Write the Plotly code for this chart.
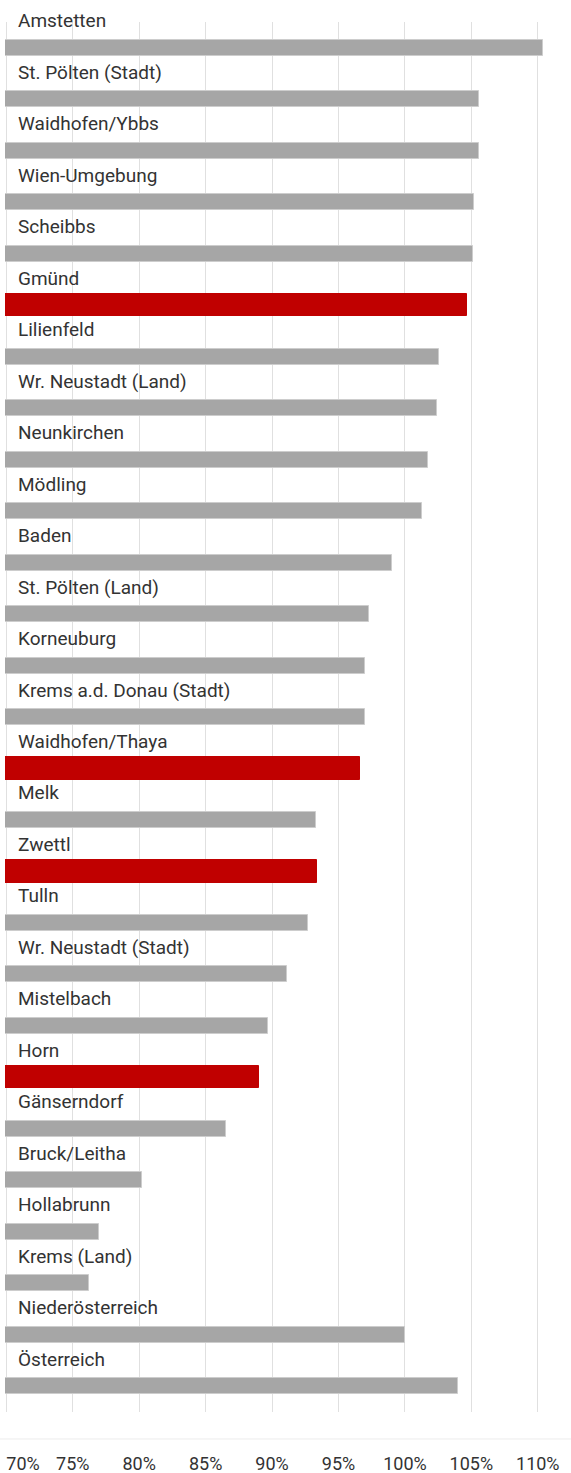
import plotly.graph_objects as go

categories = [
    "Amstetten", "St. Pölten (Stadt)", "Waidhofen/Ybbs", "Wien-Umgebung", "Scheibbs",
    "Gmünd", "Lilienfeld", "Wr. Neustadt (Land)", "Neunkirchen", "Mödling", "Baden",
    "St. Pölten (Land)", "Korneuburg", "Krems a.d. Donau (Stadt)", "Waidhofen/Thaya",
    "Melk", "Zwettl", "Tulln", "Wr. Neustadt (Stadt)", "Mistelbach", "Horn",
    "Gänserndorf", "Bruck/Leitha", "Hollabrunn", "Krems (Land)", "Niederösterreich",
    "Österreich",
]
values = [
    110.4, 105.6, 105.6, 105.2, 105.1,
    104.7, 102.6, 102.4, 101.7, 101.3, 99.0,
    97.3, 97.0, 97.0, 96.6,
    93.3, 93.4, 92.7, 91.1, 89.7, 89.0,
    86.5, 80.2, 77.0, 76.2, 100.0,
    104.0,
]
highlighted = ["Gmünd", "Waidhofen/Thaya", "Zwettl", "Horn"]
tick_values = [70, 75, 80, 85, 90, 95, 100, 105, 110]
tick_labels = ["70%", "75%", "80%", "85%", "90%", "95%", "100%", "105%", "110%"]

GRAY = "#a6a6a6"
RED = "#c00000"
TEXT = "#333333"
FONT = "Roboto"
X_RANGE = [69.9, 112.5]

is_hl = [c in highlighted for c in categories]
colors = [RED if h else GRAY for h in is_hl]
line_colors = [RED if h else "#cdcdcd" for h in is_hl]
widths = [0.43 if h else 0.31 for h in is_hl]

fig = go.Figure(
    go.Bar(
        x=values,
        y=categories,
        orientation="h",
        width=widths,
        marker=dict(color=colors, line=dict(color=line_colors, width=1)),
        hoverinfo="skip",
    )
)
# invisible helper trace so the overlay axis (first tick label) is drawn
fig.add_trace(
    go.Scatter(
        x=tick_values[:1], y=categories[:1], xaxis="x2", yaxis="y",
        mode="markers", marker=dict(opacity=0, size=1),
        hoverinfo="skip", showlegend=False,
    )
)

for c in categories:
    fig.add_annotation(
        x=70, y=c, xref="x", yref="y",
        text=c, showarrow=False,
        xanchor="left", yanchor="middle",
        xshift=10, yshift=27,
        font=dict(family=FONT, size=19, color=TEXT),
    )

# bottom baseline across full width
fig.add_shape(
    type="line", xref="paper", yref="paper",
    x0=-0.02, x1=1.02, y0=-0.0194, y1=-0.0194,
    line=dict(color="#ececec", width=1), layer="below",
)

tick_common = dict(
    range=X_RANGE,
    zeroline=False, showline=False, ticks="",
    tickfont=dict(family=FONT, size=18, color=TEXT),
    ticklabelstandoff=39,
    automargin=False,
    fixedrange=True,
)

fig.update_layout(
    width=571, height=1473,
    margin=dict(l=5, r=0, t=22, b=61, autoexpand=False),
    plot_bgcolor="white", paper_bgcolor="white",
    showlegend=False,
    bargap=0,
    xaxis=dict(
        tickvals=tick_values,
        ticktext=[""] + tick_labels[1:],
        showgrid=True, gridcolor="#e0e0e0", gridwidth=1,
        **tick_common,
    ),
    # first tick label sits right of its gridline (as in the reference)
    xaxis2=dict(
        overlaying="x", anchor="y", side="bottom",
        tickvals=tick_values[:1], ticktext=tick_labels[:1],
        ticklabelposition="outside right",
        showgrid=False,
        **tick_common,
    ),
    yaxis=dict(
        categoryorder="array", categoryarray=categories,
        range=[len(categories) - 0.5, -0.5],
        showticklabels=False, showgrid=False, zeroline=False, ticks="",
        automargin=False,
        fixedrange=True,
    ),
)

fig.write_html(
    "out.html",
    config={"displayModeBar": False},
    post_script="document.body.style.margin='0';document.body.style.overflow='hidden';",
)
